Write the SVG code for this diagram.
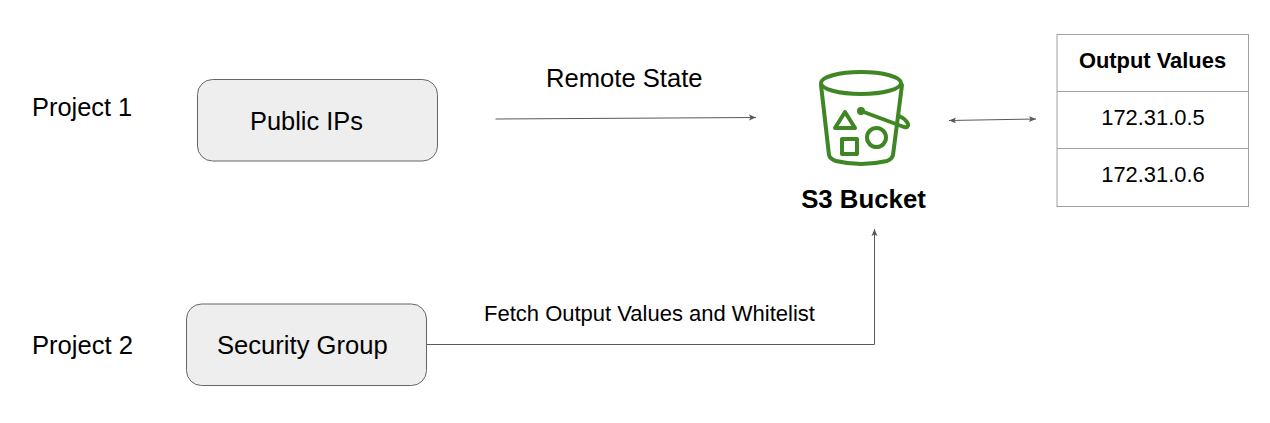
<svg xmlns="http://www.w3.org/2000/svg" width="1270" height="423" viewBox="0 0 1270 423">
<style>
text{font-family:"Liberation Sans",Arial,sans-serif;fill:#000}
.box{fill:#eeeeee;stroke:#666666;stroke-width:1}
.c{fill:none;stroke:#595959;stroke-width:1}
.t{fill:none;stroke:#a0a0a0;stroke-width:1}
.b{fill:none;stroke:#3f8624;stroke-width:4;stroke-linecap:round;stroke-linejoin:round}
</style>
<defs>
<marker id="a" viewBox="0 0 8 8" refX="7" refY="4" markerWidth="8" markerHeight="8" orient="auto-start-reverse" markerUnits="userSpaceOnUse"><path d="M0 1 L7 4 L0 7 L1.5 4Z" fill="#595959"/></marker>
</defs>
<rect width="1270" height="423" fill="#ffffff"/>
<text x="32" y="116" font-size="25.400">Project 1</text>
<text x="32" y="354" font-size="25.600">Project 2</text>
<g id="public-ips"><rect class="box" x="197.500" y="79.500" width="240" height="81.500" rx="15"/><text x="250" y="130" font-size="25.400">Public IPs</text></g>
<g id="security-group"><rect class="box" x="186.500" y="304" width="240" height="81.500" rx="15"/><text x="217" y="354" font-size="25.600">Security Group</text></g>
<g id="connectors">
<path class="c" marker-end="url(#a)" d="M495.500 119 L756 117.500"/>
<path class="c" marker-start="url(#a)" marker-end="url(#a)" d="M949 120.500 L1036 119"/>
<path class="c" marker-end="url(#a)" d="M427 344.500 H874.500 V229"/>
</g>
<text x="546" y="87" font-size="25.600">Remote State</text>
<text x="484" y="320.500" font-size="22">Fetch Output Values and Whitelist</text>
<g id="s3-bucket">
<ellipse class="b" cx="861" cy="83" rx="40" ry="11"/>
<path class="b" d="M821 85 L829 155 Q830 159 836 161 Q861 167 887 161 Q892 159 893 155 L902 85"/>
<path class="b" d="M861 111 L904 127 Q909 128 908 124 Q906 119 899 116"/>
<circle cx="861" cy="111" r="4" fill="#3f8624"/>
<path class="b" d="M845 112 L855 128 H835Z"/>
<rect class="b" x="842" y="139" width="15" height="15"/>
<circle class="b" cx="876.500" cy="137.500" r="9.500"/>
<text x="863.500" y="208" font-size="25.800" font-weight="bold" text-anchor="middle">S3 Bucket</text>
</g>
<g id="output-values">
<path class="t" d="M1057 34 V207 M1248.500 34 V207 M1057 34.500 H1249 M1057 91.500 H1249 M1057 148.500 H1249 M1057 206.500 H1249"/>
<text x="1152.500" y="68" font-size="21.900" font-weight="bold" text-anchor="middle">Output Values</text>
<text x="1153" y="124.500" font-size="21.900" text-anchor="middle">172.31.0.5</text>
<text x="1153" y="181.500" font-size="21.900" text-anchor="middle">172.31.0.6</text>
</g>
</svg>
